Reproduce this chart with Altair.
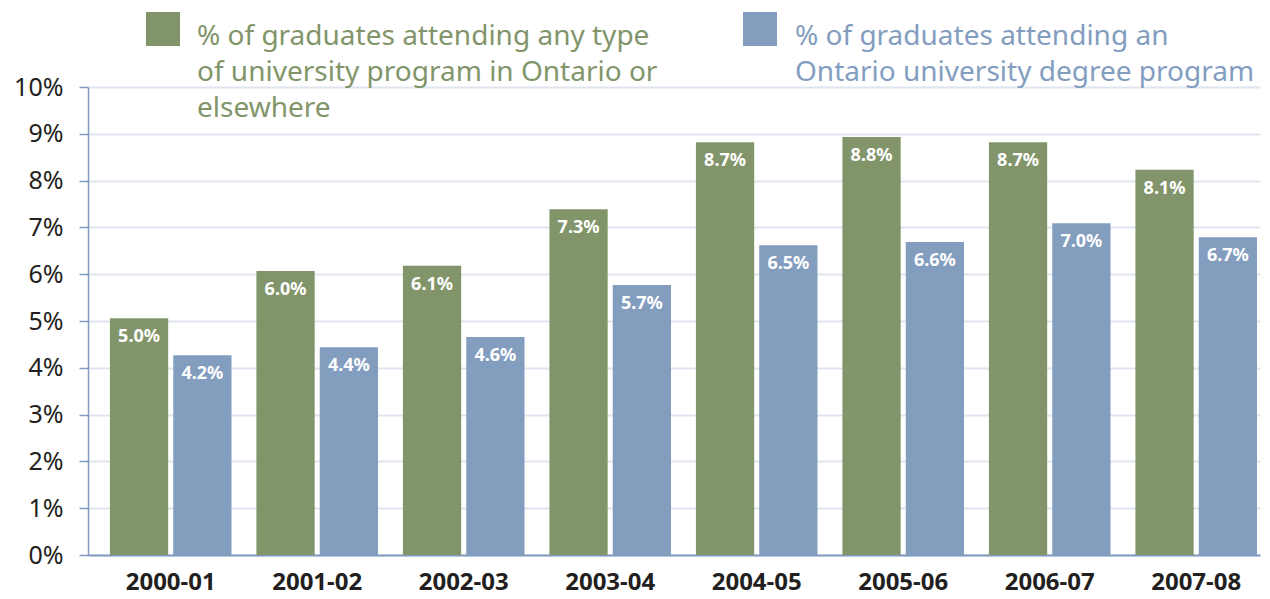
import altair as alt
import pandas as pd

years = ["2000-01", "2001-02", "2002-03", "2003-04", "2004-05", "2005-06", "2006-07", "2007-08"]
series = ["any", "degree"]
any_program = [5.06, 6.07, 6.18, 7.39, 8.82, 8.93, 8.82, 8.23]
degree_program = [4.27, 4.44, 4.66, 5.77, 6.62, 6.69, 7.09, 6.79]
any_labels = ["5.0%", "6.0%", "6.1%", "7.3%", "8.7%", "8.8%", "8.7%", "8.1%"]
degree_labels = ["4.2%", "4.4%", "4.6%", "5.7%", "6.5%", "6.6%", "7.0%", "6.7%"]
legend_texts = [
    "% of graduates attending any type\nof university program in Ontario or\nelsewhere",
    "% of graduates attending an\nOntario university degree program",
]
colors = ["#82956a", "#839dbf"]

FONT = "Noto Sans"

rows = []
for i, y in enumerate(years):
    rows.append({"year": y, "series": "any", "value": any_program[i], "label": any_labels[i]})
    rows.append({"year": y, "series": "degree", "value": degree_program[i], "label": degree_labels[i]})
df = pd.DataFrame(rows)
legend_df = pd.DataFrame({"series": series, "text": legend_texts})

color = alt.Color("series:N", scale=alt.Scale(domain=series, range=colors), legend=None)

x = alt.X(
    "year:N",
    sort=years,
    title=None,
    scale=alt.Scale(paddingInner=0.17, paddingOuter=0.085, align=0.88),
    axis=alt.Axis(
        labelAngle=0, labelFont=FONT, labelFontSize=24, labelFontWeight="bold",
        labelColor="#231f20", labelPadding=15, ticks=False, grid=False,
        domainColor="#7f9bc1", domainWidth=2,
    ),
)
xo = alt.XOffset("series:N", sort=series, scale=alt.Scale(paddingInner=0.08, paddingOuter=0))
y = alt.Y(
    "value:Q",
    title=None,
    scale=alt.Scale(domain=[0, 10], nice=False),
    axis=alt.Axis(
        values=list(range(11)), labelExpr="datum.value + '%'", labelFont=FONT,
        labelFontSize=25, labelColor="#231f20", labelPadding=16,
        tickSize=9, tickWidth=1.5, tickColor="#7f9bc1",
        domainColor="#7f9bc1", domainWidth=1.5,
        gridColor="#dfe5ef", gridWidth=2,
    ),
)

bars = alt.Chart(df).mark_bar().encode(x=x, xOffset=xo, y=y, color=color)
labels = alt.Chart(df).mark_text(
    baseline="middle", dy=19, color="white", fontWeight="bold", fontSize=18, font=FONT
).encode(x=x, xOffset=xo, y=y, text="label:N")

legend_layers = []
sq_x = [75, 672]
tx_x = [109, 707]
for i, s in enumerate(series):
    sq = alt.Chart(legend_df).transform_filter(alt.datum.series == s).mark_square(
        size=1156, opacity=1
    ).encode(x=alt.value(sq_x[i]), y=alt.value(-58), color=color)
    tx = alt.Chart(legend_df).transform_filter(alt.datum.series == s).mark_text(
        align="left", baseline="alphabetic", lineBreak="\n", lineHeight=36,
        fontSize=28, font=FONT
    ).encode(x=alt.value(tx_x[i]), y=alt.value(-42), text="text:N", color=color)
    legend_layers += [sq, tx]

chart = alt.layer(bars, labels, *legend_layers).properties(
    width=1172, height=468,
    padding={"left": 80, "top": 79, "right": 2, "bottom": 44},
    autosize=alt.AutoSizeParams(type="none"),
).configure_view(stroke=None)

chart.save("out.html", embed_options={"renderer": "svg", "actions": False})
